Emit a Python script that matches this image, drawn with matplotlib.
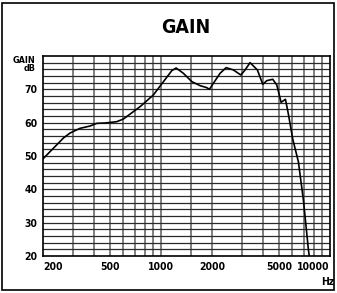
import numpy as np
import matplotlib.pyplot as plt
from matplotlib.patches import Rectangle
from matplotlib import font_manager

# frequency response
freq = [200, 265, 290, 332, 381, 417, 467, 548, 600, 753, 902, 1035, 1160, 1230,
        1358, 1524, 1705, 1867, 1936, 2043, 2239, 2431, 2686, 2970, 3148, 3368,
        3722, 4006, 4230, 4589, 4850, 5141, 5456, 5682, 6030, 6506, 6967, 7463, 7550]
gain = [49.1, 55.4, 56.9, 58.3, 59.0, 59.8, 59.9, 60.3, 61.1, 64.8, 68.3, 72.3, 75.6, 76.4,
        74.8, 72.3, 71.1, 70.5, 70.0, 71.8, 74.8, 76.5, 75.8, 74.3, 75.8, 78.0,
        75.8, 71.5, 72.6, 73.0, 71.3, 66.1, 67.0, 62.5, 55.0, 48.3, 36.8, 21.8, 20]

x_ticks = [200, 500, 1000, 2000, 5000, 10000]
x_labels = ['200', '500', '1000', '2000', '5000', '10000']
x_grid = [300, 400, 500, 600, 700, 800, 900, 1000, 1500, 2000, 3000, 4000,
          5000, 6000, 7000, 8000, 9000]
y_ticks = [20, 30, 40, 50, 60, 70]

# narrow bold face if one is around
names = {f.name for f in font_manager.fontManager.ttflist}
narrow = [n for n in ['Liberation Sans Narrow', 'DejaVu Sans Condensed'] if n in names]
plt.rcParams['font.family'] = narrow + ['DejaVu Sans']
plt.rcParams['font.stretch'] = 'condensed'

fig = plt.figure(figsize=(3.37, 2.93), dpi=100)
ax = fig.add_axes([0.127, 0.126, 0.852, 0.683])

ax.set_xscale('log')
ax.set_xlim(200, 10000)
ax.set_ylim(20, 80)

for f in x_grid:
    ax.axvline(f, color='#808080', lw=1.4, zorder=1)
for g in np.arange(22, 80, 2):
    ax.axhline(g, color='#2a2a2a', lw=0.9, zorder=1)

ax.plot(freq, gain, color='black', lw=1.2, zorder=3)

ax.set_xticks(x_ticks)
ax.set_xticklabels(x_labels, fontsize=7.5, fontweight='bold')
ax.xaxis.set_minor_locator(plt.NullLocator())
ax.set_yticks(y_ticks)
ax.set_yticklabels([str(v) for v in y_ticks], fontsize=7.5, fontweight='bold')
ax.tick_params(length=0, pad=4)
xl = ax.get_xticklabels()
xl[0].set_horizontalalignment('left')
xl[-1].set_horizontalalignment('right')
xl[-1].set_x(10800)
for s in ax.spines.values():
    s.set_linewidth(1.2)

ax.text(-0.025, 1.0, 'GAIN\ndB', transform=ax.transAxes, ha='right', va='top',
        fontsize=6.5, fontweight='bold', linespacing=0.9)
ax.text(1.015, -0.105, 'Hz', transform=ax.transAxes, ha='right', va='top',
        fontsize=7.5, fontweight='bold')

fig.text(0.55, 0.905, 'GAIN', ha='center', va='center', fontsize=14, fontweight='bold')

fig.patches.append(Rectangle((0.006, 0.01), 0.985, 0.98, transform=fig.transFigure,
                             fill=False, edgecolor='black', lw=1.2))

fig.savefig('out.png', dpi=100)
